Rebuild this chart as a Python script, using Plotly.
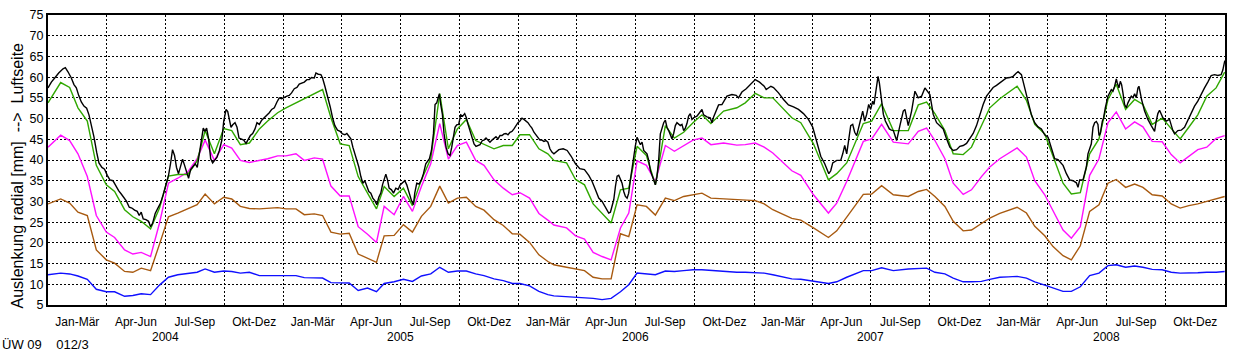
import pandas as pd
import plotly.graph_objects as go

START = pd.Timestamp("2004-01-01")
END = pd.Timestamp("2009-01-01")

# Achsbeschriftung
quartale = ["Jan-Mär", "Apr-Jun", "Jul-Sep", "Okt-Dez"]
jahre = [2004, 2005, 2006, 2007, 2008]
y_titel = "Auslenkung radial [mm]\u00a0\u00a0-->\u00a0\u00a0Luftseite"
kennung = "ÜW 09\u00a0\u00a0\u00a0\u00a0012/3"

# Messtage der Einzelmessungen (Tage seit 01.01.2004)
mess_tage = [
    0, 19.7, 33.6, 46.5, 61.0, 75.0, 90.5, 103.4, 118.9, 131.7, 144.7, 159.2, 173.1, 187.0, 201.5, 217.0, 231.5, 243.9, 258.3,
    272.8, 285.2, 298.6, 312.6, 328.1, 341.0, 356.5, 369.4, 384.9, 397.8, 413.3, 426.2, 439.2, 453.6, 467.5, 481.5, 496.0, 509.9, 521.8,
    537.3, 551.7, 565.7, 579.6, 594.1, 608.1, 621.5, 635.4, 649.4, 663.9, 676.8, 692.3, 706.7, 720.7, 732.5, 747.5, 762.0, 775.9, 785.2,
    805.0, 818.9, 832.8, 846.2, 860.1, 874.1, 888.6, 901.5, 914.4, 928.9, 942.8, 958.3, 972.3, 986.7, 1001.2, 1015.1, 1029.0, 1048.7,
    1069.3, 1082.3, 1097.8, 1111.7, 1125.1, 1154.6, 1168.5, 1188.2, 1211.4, 1224.3, 1239.8, 1265.6, 1278.6, 1294.0, 1312.1,
    1335.4, 1350.9, 1363.8, 1376.7, 1392.2, 1405.1, 1420.6, 1433.5, 1449.0, 1461.9, 1477.4, 1490.4, 1504.3, 1518.8, 1531.7, 1547.2, 1560.1, 1575.6,
    1588.5, 1602.4, 1616.9, 1631.4, 1645.3, 1658.2, 1672.7, 1686.7, 1699.6, 1714.0, 1729.5, 1743.5, 1757.4, 1770.8, 1784.8, 1798.7, 1813.2, 1826.5,
]

gruen = [
    53.8, 58.7, 57.5, 52.6, 49.4, 38.7, 34.0, 32.4, 28.0, 26.3, 25.2, 23.4, 28.4, 36.1, 36.5, 36.5, 39.8, 47.1, 41.5,
    47.6, 47.1, 43.7, 44.1, 47.5, 49.4, 51.4, 52.6, 53.8, 54.8, 56.0, 57.0, 50.2, 43.9, 43.5, 36.0, 32.0, 28.2, 33.6,
    31.2, 33.2, 29.0, 35.2, 40.3, 56.0, 42.7, 47.5, 49.8, 44.7, 43.7, 42.7, 43.5, 43.5, 46.1, 46.1, 42.7, 41.5, 39.9,
    39.3, 35.3, 34.0, 29.4, 27.2, 24.8, 32.8, 33.2, 43.3, 41.1, 34.0, 48.3, 45.3, 46.7, 49.0, 50.9, 48.8, 51.8,
    52.6, 53.8, 56.1, 55.0, 55.0, 50.2, 49.0, 43.9, 35.2, 36.7, 39.3, 48.8, 49.4, 53.6, 47.1,
    47.1, 53.3, 54.0, 51.2, 47.1, 41.5, 41.3, 43.1, 48.3, 52.6, 54.8, 56.2, 57.8, 54.4, 48.6, 46.3, 40.7, 34.4,
    31.8, 32.1, 41.5, 45.1, 54.6, 58.3, 52.2, 54.6, 53.4, 48.6, 50.1, 47.5, 45.1, 47.9, 50.9, 55.4, 57.4, 61.2,
]

magenta = [
    43.1, 46.0, 44.7, 41.5, 36.0, 26.6, 22.6, 21.3, 18.3, 17.3, 17.7, 16.7, 24.8, 34.4, 35.6, 37.1, 40.3, 44.8, 39.9,
    43.7, 42.9, 39.9, 39.4, 39.8, 40.3, 41.0, 41.0, 41.5, 39.9, 40.5, 40.2, 33.7, 31.3, 31.3, 23.9, 22.1, 20.1, 28.8,
    26.8, 31.2, 27.6, 33.6, 39.1, 48.8, 40.2, 43.5, 44.3, 39.9, 38.7, 35.2, 33.2, 31.6, 32.1, 30.8, 27.1, 25.5, 24.3,
    23.6, 21.7, 20.9, 17.7, 16.7, 15.9, 23.6, 27.2, 39.8, 38.7, 34.8, 43.5, 42.1, 43.5, 44.8, 45.3, 43.7, 44.1,
    43.6, 43.7, 44.1, 43.1, 41.7, 37.4, 36.3, 31.6, 27.2, 29.6, 34.8, 44.5, 45.1, 48.6, 44.3,
    43.9, 46.9, 47.7, 44.7, 40.3, 34.4, 31.7, 32.8, 36.0, 38.3, 40.3, 41.5, 42.9, 40.7, 35.0, 31.6, 27.6, 23.1,
    21.1, 23.9, 36.3, 40.3, 49.0, 51.6, 47.5, 49.2, 48.0, 44.5, 44.4, 41.3, 39.3, 40.9, 42.5, 43.1, 45.2, 45.9,
]

braun = [
    29.4, 30.6, 29.6, 27.4, 26.6, 18.3, 15.9, 15.1, 13.1, 12.9, 13.9, 13.3, 19.7, 26.3, 27.2, 28.2, 29.2, 31.8, 29.4,
    31.0, 30.6, 28.8, 28.3, 28.2, 28.3, 28.5, 28.2, 28.2, 26.8, 27.0, 26.6, 22.6, 22.1, 22.3, 17.3, 16.3, 15.3, 21.7,
    21.8, 24.4, 22.6, 26.4, 28.8, 33.7, 29.6, 30.8, 31.0, 28.8, 27.9, 25.6, 24.2, 22.2, 22.1, 20.1, 17.1, 15.5, 14.7,
    14.1, 13.7, 13.3, 11.7, 11.3, 11.3, 22.2, 21.5, 29.2, 28.8, 26.7, 30.8, 30.2, 31.2, 31.7, 32.0, 30.8, 30.6,
    30.4, 30.2, 30.2, 29.4, 28.0, 25.9, 25.5, 23.6, 21.3, 22.9, 26.2, 31.7, 31.8, 33.8, 31.6,
    31.2, 32.4, 32.9, 31.2, 28.8, 25.2, 22.9, 23.1, 24.7, 26.0, 27.1, 27.9, 28.6, 27.2, 24.0, 21.7, 19.1, 16.9,
    15.9, 19.3, 27.6, 29.2, 34.4, 35.3, 33.4, 34.2, 33.4, 31.6, 31.3, 29.4, 28.4, 29.0, 29.4, 30.0, 30.6, 31.2,
]

blau = [
    12.3, 12.7, 12.5, 12.0, 11.2, 8.8, 8.2, 8.2, 7.1, 7.3, 7.7, 7.5, 9.8, 11.7, 12.3, 12.7, 12.9, 13.7, 12.9,
    13.2, 13.1, 12.7, 12.9, 12.1, 12.1, 12.1, 12.1, 12.1, 11.6, 11.6, 11.5, 10.4, 10.3, 10.3, 8.5, 9.1, 8.2, 10.2,
    10.6, 11.2, 10.7, 12.0, 12.5, 14.1, 12.9, 13.2, 13.2, 12.5, 12.1, 11.3, 10.9, 10.2, 10.2, 9.6, 8.3, 7.5, 7.2,
    7.0, 7.0, 6.7, 6.6, 6.3, 6.6, 8.2, 9.9, 12.7, 12.5, 12.3, 13.2, 13.1, 13.3, 13.5, 13.5, 13.3, 13.2,
    12.9, 12.9, 12.8, 12.7, 12.3, 11.3, 11.2, 10.7, 10.2, 10.6, 11.7, 13.3, 13.3, 14.0, 13.3,
    13.7, 13.8, 13.9, 12.9, 12.5, 11.5, 10.6, 10.6, 10.7, 11.2, 11.7, 11.8, 11.9, 11.5, 10.6, 9.8, 9.1, 8.3,
    8.3, 9.4, 12.1, 12.7, 14.5, 14.7, 14.1, 14.4, 14.1, 13.6, 13.5, 12.9, 12.7, 12.7, 12.8, 12.9, 12.9, 13.1,
]

# kontinuierlich registrierte Messreihe (Tag, Wert)
schwarz = [
    (0, 57.4), (5.2, 58.8), (10.4, 59.8), (16.6, 61.0), (23.3, 62.0), (26.9, 62.3), (31.0, 61.3), (36.2, 59.8), (40.3, 58.2),
    (44.0, 57.4), (47.6, 55.6), (51.7, 54.0), (55.8, 53.0), (60.0, 52.5), (63.6, 50.9), (67.2, 48.6), (71.4, 45.5), (75.5, 41.9),
    (79.1, 39.3), (83.7, 38.2), (87.8, 37.8), (92.0, 36.3), (96.1, 35.2), (100.8, 35.0), (104.9, 33.7), (109.6, 32.6), (113.7, 31.8),
    (117.8, 30.8), (122.0, 30.0), (126.1, 28.6), (130.2, 28.4), (134.4, 27.9), (138.5, 27.6), (141.6, 26.6), (144.7, 27.4),
    (147.8, 25.8), (152.0, 25.6), (156.1, 25.2), (159.2, 23.9), (162.3, 24.7), (166.4, 27.1), (170.6, 28.4), (174.7, 29.6),
    (178.8, 31.6), (183.0, 34.0), (187.1, 36.3), (190.2, 39.1), (193.3, 42.5), (196.4, 41.1), (199.5, 38.2), (202.6, 36.7),
    (205.8, 38.3), (208.9, 40.2), (212.0, 38.7), (215.1, 37.1), (218.2, 35.6), (221.4, 37.7), (225.0, 38.5), (228.6, 39.1),
    (231.7, 38.2), (234.8, 41.5), (237.9, 45.1), (241.0, 47.7), (243.6, 46.9), (246.2, 47.7), (249.3, 45.1), (252.5, 40.3),
    (255.6, 39.3), (258.3, 39.8),
    (262.4, 40.7), (266.0, 42.3), (269.7, 44.7), (272.8, 49.4), (276.4, 52.2), (279.0, 51.7), (281.6, 49.4), (284.1, 47.9),
    (286.7, 48.5), (290.3, 49.0), (293.4, 47.9), (296.5, 45.3), (299.6, 45.1), (303.8, 44.8), (307.4, 44.0), (310.0, 44.7),
    (314.1, 45.9), (317.7, 46.4), (321.3, 47.5), (324.4, 49.0), (328.0, 48.6), (331.7, 49.6), (335.8, 50.2), (339.9, 51.0),
    (343.5, 51.4), (347.2, 52.2), (351.3, 52.6), (355.4, 54.0), (359.0, 55.0), (362.6, 54.8), (366.8, 55.2), (370.9, 55.4),
    (374.5, 55.6), (378.1, 56.2), (382.3, 57.2), (386.4, 57.5), (390.0, 58.3), (393.6, 58.5), (397.8, 58.8), (401.9, 59.4),
    (405.5, 59.4), (409.1, 59.9), (413.3, 59.8), (415.9, 61.0), (419.5, 60.7), (423.6, 60.6), (426.2, 59.8), (429.8, 57.8),
    (434.0, 55.4), (438.1, 52.8), (441.7, 50.2), (445.3, 48.3), (449.4, 47.2), (453.6, 46.9), (457.2, 46.3), (460.8, 46.1),
    (463.9, 46.4), (467.0, 45.6), (470.1, 45.1), (473.2, 43.1), (476.3, 41.5), (479.4, 39.9), (482.5, 38.3), (485.6, 36.0),
    (488.7, 34.4), (491.8, 35.0), (494.9, 33.6), (498.0, 32.4), (501.1, 32.0), (504.2, 30.8), (507.3, 30.2), (510.4, 29.2),
    (513.5, 31.0), (516.6, 32.0), (519.2, 34.0), (521.8, 35.6),
    (524.4, 36.6), (527.0, 35.2), (529.5, 33.2), (533.2, 32.8), (536.3, 32.0), (539.9, 33.2), (543.5, 32.9), (546.6, 34.0),
    (550.2, 34.5), (553.8, 35.0), (556.9, 34.0), (560.5, 32.0), (564.2, 30.2), (567.3, 29.2), (569.3, 32.0), (572.4, 34.4),
    (576.0, 34.2), (579.7, 35.2), (582.8, 36.7), (586.4, 39.1), (589.0, 39.8), (592.1, 40.3), (595.2, 42.3), (598.3, 46.3),
    (600.8, 53.4), (603.4, 53.8), (606.0, 55.2), (607.6, 56.0), (609.6, 53.4), (612.2, 51.0), (614.8, 46.3), (617.9, 43.1),
    (621.0, 41.5), (624.1, 41.1), (626.7, 43.1), (629.3, 45.9), (631.8, 47.9), (634.4, 48.5), (637.5, 48.6), (640.6, 50.9),
    (643.7, 50.6), (646.8, 51.2), (649.4, 50.2), (652.0, 48.6), (655.1, 47.1), (658.2, 45.1), (661.3, 43.9), (664.4, 43.3),
    (667.5, 43.5), (670.6, 43.7), (674.2, 44.7), (676.8, 44.8), (679.9, 45.3), (683.0, 44.7), (686.1, 44.3), (689.2, 44.8),
    (692.3, 45.1), (695.4, 45.6), (698.5, 45.1), (701.6, 45.9), (704.7, 45.9), (707.8, 46.3), (710.9, 46.4), (714.0, 46.1),
    (717.1, 46.7), (720.2, 46.9), (723.3, 47.5), (726.4, 48.3), (729.5, 49.0), (732.6, 49.4), (735.7, 50.1), (738.8, 49.8),
    (741.9, 49.4), (745.0, 49.0), (748.1, 48.3), (751.2, 47.7), (754.3, 46.7), (757.4, 46.1), (760.5, 45.3), (763.6, 44.8),
    (766.7, 44.8), (769.8, 44.5), (772.9, 44.7), (776.0, 44.3), (779.1, 42.7), (782.2, 41.9), (785.3, 41.5),
    (793.0, 42.5), (799.7, 42.7), (805.9, 42.3), (812.1, 40.9), (818.8, 39.1), (825.5, 37.9), (832.7, 37.7), (839.4, 36.3),
    (844.6, 34.8), (849.8, 32.8), (854.9, 30.8), (860.1, 30.0), (865.3, 28.4), (870.4, 27.2), (873.0, 27.4), (875.6, 28.8),
    (878.2, 30.4), (880.8, 33.6), (883.4, 36.1), (885.9, 36.3), (888.5, 35.2), (891.1, 34.4), (893.7, 32.4), (896.3, 31.2),
    (898.9, 30.8), (901.4, 32.0), (904.0, 35.2), (906.6, 38.3), (909.2, 41.5), (911.8, 43.5), (914.4, 45.5), (916.9, 44.7),
    (919.5, 43.7), (922.1, 44.3), (924.7, 42.3), (929.8, 41.5), (932.4, 39.9), (935.0, 37.5), (937.6, 36.3), (940.2, 35.2),
    (942.8, 34.0), (945.3, 36.0), (947.9, 39.9), (950.5, 46.3), (953.1, 47.9), (955.7, 49.0), (958.3, 49.6), (960.8, 47.9),
    (963.4, 47.1), (966.0, 45.9), (968.6, 45.1), (971.2, 46.4), (973.8, 48.3), (976.3, 49.0), (981.5, 48.3), (984.1, 48.6),
    (986.7, 47.1), (989.3, 47.7), (991.8, 48.8), (994.4, 50.6), (997.0, 51.2), (999.6, 49.8), (1002.2, 50.2), (1007.3, 50.6),
    (1012.5, 51.8), (1015.1, 52.2), (1017.7, 50.9), (1022.8, 50.4), (1028.0, 50.2), (1030.6, 49.0), (1033.2, 50.4),
    (1038.3, 52.2), (1040.9, 53.3), (1046.1, 53.4), (1048.7, 54.2),
    (1053.9, 55.4), (1061.6, 55.8), (1068.3, 55.6), (1071.9, 55.0), (1077.1, 56.4), (1083.8, 57.2), (1091.1, 58.3),
    (1097.8, 59.4), (1104.5, 58.8), (1111.7, 57.8), (1114.8, 57.0), (1122.1, 57.8), (1126.2, 57.5), (1133.9, 56.2),
    (1141.7, 54.6), (1149.4, 53.3), (1157.2, 52.8), (1164.9, 52.2), (1172.7, 51.2), (1180.4, 49.8), (1187.1, 47.9),
    (1193.3, 44.3), (1199.5, 40.9), (1205.7, 39.1), (1212.0, 36.7), (1215.0, 37.4), (1218.1, 39.3), (1224.3, 39.9),
    (1230.5, 39.9), (1233.6, 41.5), (1236.7, 43.5), (1239.8, 41.5), (1242.9, 44.7), (1246.0, 48.3), (1249.1, 48.6),
    (1252.2, 46.7), (1255.3, 45.9), (1258.4, 47.9), (1261.5, 50.2), (1264.6, 51.8), (1267.7, 49.4), (1270.8, 51.0),
    (1273.9, 53.4), (1277.0, 52.2), (1280.1, 54.2), (1282.2, 53.4), (1284.3, 55.8), (1286.3, 58.2), (1288.4, 60.2),
    (1290.5, 58.6), (1292.5, 55.8), (1294.6, 53.4), (1296.7, 51.0), (1299.8, 49.4), (1302.9, 48.3), (1306.0, 47.5),
    (1309.1, 47.2), (1312.2, 47.1),
    (1314.7, 45.9), (1317.3, 44.7), (1322.4, 48.3), (1327.6, 51.8), (1330.2, 52.2), (1332.8, 50.2), (1335.3, 48.3),
    (1340.5, 51.8), (1345.7, 56.6), (1350.8, 55.0), (1356.0, 55.4), (1361.2, 57.4), (1366.3, 56.2), (1368.9, 55.8),
    (1371.5, 53.4), (1374.1, 51.0), (1379.3, 49.0), (1384.4, 48.3), (1389.6, 47.5), (1394.8, 45.1), (1399.9, 43.1),
    (1405.1, 42.3), (1410.3, 42.5), (1415.4, 43.3), (1420.6, 43.5), (1425.8, 44.0), (1430.9, 45.1), (1436.1, 46.4),
    (1441.3, 48.3), (1446.4, 51.0), (1451.6, 53.4), (1456.8, 55.4), (1461.9, 56.6), (1467.1, 57.5), (1472.3, 58.0),
    (1477.4, 58.6), (1482.6, 59.1), (1487.7, 59.8), (1492.9, 59.9), (1498.1, 60.2), (1503.2, 61.0), (1505.8, 61.3),
    (1511.0, 60.6), (1516.2, 57.4), (1521.3, 53.8), (1526.5, 50.9), (1531.6, 49.0), (1536.8, 48.0), (1542.0, 47.5),
    (1547.1, 46.1), (1552.3, 45.5), (1557.5, 43.1), (1562.6, 40.3), (1567.8, 40.1), (1573.0, 39.0), (1575.6, 38.7),
    (1580.8, 36.7), (1585.9, 35.2), (1591.1, 35.0), (1596.3, 34.5), (1598.8, 33.4), (1601.4, 35.2), (1606.6, 35.2),
    (1609.2, 36.7), (1611.8, 38.3), (1614.3, 41.5), (1619.5, 43.9), (1622.1, 47.9), (1624.7, 49.0), (1627.3, 49.3),
    (1629.8, 48.6), (1631.4, 45.9), (1633.5, 46.4), (1636.6, 49.4), (1638.6, 50.2), (1641.2, 52.6), (1645.3, 55.4),
    (1650.5, 57.0), (1653.1, 56.6), (1655.7, 57.8), (1658.3, 59.6), (1659.8, 58.6), (1662.4, 57.4), (1664.5, 59.0),
    (1666.5, 58.2), (1668.6, 56.2), (1671.2, 53.4), (1673.8, 52.6), (1676.3, 53.8), (1681.5, 55.4), (1684.1, 55.0),
    (1686.7, 56.0), (1689.3, 55.0), (1691.8, 57.4), (1693.4, 57.8), (1695.5, 56.2), (1697.5, 54.6), (1702.2, 51.8),
    (1707.3, 49.8), (1712.5, 48.3), (1717.7, 46.9), (1720.2, 49.4), (1722.8, 51.2), (1725.4, 52.0), (1730.6, 50.2),
    (1735.7, 49.4), (1740.9, 49.8), (1746.1, 47.1), (1748.7, 46.3), (1753.8, 47.1), (1759.0, 47.2), (1764.2, 47.9),
    (1769.3, 49.6), (1774.5, 51.2), (1779.7, 53.0), (1784.8, 54.2), (1790.0, 56.0), (1795.2, 57.4), (1800.3, 58.8),
    (1805.5, 60.4), (1810.7, 60.6), (1815.8, 60.4), (1821.0, 60.6), (1823.6, 61.7), (1826.7, 64.0),
]


def datum(tage):
    return START + pd.to_timedelta(pd.Series(tage, dtype=float), unit="D")


x_mess = datum(mess_tage)
x_schwarz = datum([t for t, _ in schwarz])
y_schwarz = [w for _, w in schwarz]

fig = go.Figure()
reihen = [
    (blau, "#1010ff"),
    (braun, "#a85a10"),
    (magenta, "#ff10ff"),
    (gruen, "#30a800"),
]
for werte, farbe in reihen:
    fig.add_trace(go.Scatter(x=x_mess, y=werte, mode="lines",
                             line=dict(color=farbe, width=1.4), hoverinfo="skip"))
fig.add_trace(go.Scatter(x=x_schwarz, y=y_schwarz, mode="lines",
                         line=dict(color="black", width=1.4), hoverinfo="skip"))

# Quartalsbeschriftung in Quartalsmitte, Gitter an Quartalsgrenzen
q_start = [pd.Timestamp(year=j, month=3 * q + 1, day=1) for j in jahre for q in range(4)]
q_ende = q_start[1:] + [END]
q_mitte = [a + (b - a) / 2 for a, b in zip(q_start, q_ende)]
q_text = [quartale[q] for j in jahre for q in range(4)]

FONT = "Liberation Sans, Arial, Helvetica, sans-serif"

fig.update_layout(
    width=1235, height=352,
    margin=dict(l=48, r=8, t=11, b=47),
    paper_bgcolor="white", plot_bgcolor="white",
    showlegend=False,
    font=dict(family=FONT, size=12, color="black"),
)
fig.update_xaxes(
    type="date", range=[START, END],
    tickmode="array", tickvals=q_mitte, ticktext=q_text,
    showgrid=False, ticks="outside", ticklen=5, tickcolor="rgba(0,0,0,0)",
    tickfont=dict(size=12),
    showline=True, mirror=True, linecolor="black", linewidth=2, zeroline=False,
    minor=dict(tickmode="array", tickvals=q_start[1:], showgrid=True,
               gridcolor="black", gridwidth=1.2, griddash="2px,2px", ticks=""),
)
fig.update_yaxes(
    range=[5, 75], tick0=5, dtick=5,
    showgrid=True, gridcolor="black", gridwidth=1.2, griddash="2px,2px",
    showline=True, mirror=True, linecolor="black", linewidth=2,
    ticks="", zeroline=False, tickfont=dict(size=12.5),
)

for j in jahre:
    fig.add_annotation(x=pd.Timestamp(year=j, month=7, day=1), xref="x", y=0, yref="paper",
                       yshift=-32, yanchor="middle", text=str(j), showarrow=False,
                       font=dict(size=12))

fig.add_annotation(x=0, xref="paper", xshift=-30.5, y=0.445, yref="paper",
                   text=y_titel, textangle=-90, showarrow=False,
                   xanchor="center", yanchor="middle", font=dict(size=16))
fig.add_annotation(x=0, xref="paper", xshift=-48, xanchor="left", y=0, yref="paper",
                   yshift=-39, yanchor="middle", text=kennung, showarrow=False,
                   font=dict(size=13))

fig.write_html("out.html")
